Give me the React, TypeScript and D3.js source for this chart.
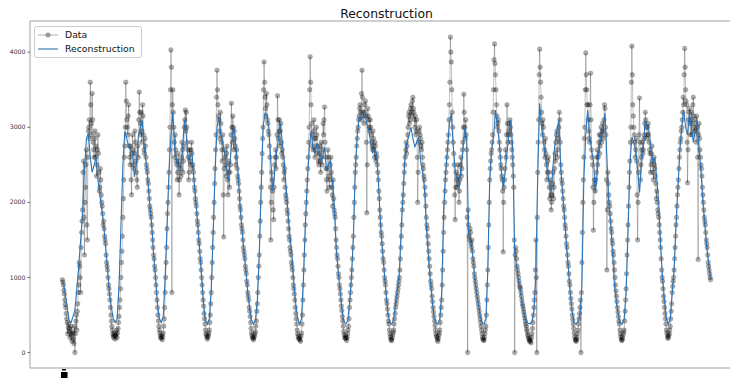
import React from "react";
import * as d3 from "d3";

// y axis ticks
const yTicks = [0, 1000, 2000, 3000, 4000];

// observed series, one row per day (first and last rows are partial days)
const observedByDay: number[][] = [
  [970, 900, 780, 640, 520, 400, 330],
  [280, 200, 350, 150, 260, 120, 0, 420, 300, 650, 900, 1150, 800, 1600, 1900, 2550, 1300, 2200, 2700, 1500, 2950, 3100, 3600, 3050, 3450, 2800, 2600, 2950, 2750, 2500, 2900, 2400, 2200, 2300, 2000, 1850, 1750, 1550, 1450, 1200, 1100, 900, 780, 600, 420, 300, 220, 260],
  [180, 250, 200, 320, 480, 700, 1000, 1350, 1800, 2300, 2750, 3600, 3100, 2900, 3300, 2600, 2750, 2100, 2900, 2500, 2650, 2800, 2400, 2200, 2600, 3470, 2900, 3200, 2950, 3150, 2700, 2850, 2600, 2450, 2300, 2150, 1950, 1850, 1700, 1500, 1300, 1150, 1000, 800, 600, 420, 300, 220],
  [200, 170, 260, 450, 800, 1200, 1650, 2000, 2400, 3000, 4030, 800, 3500, 3000, 2600, 2700, 2500, 2400, 2550, 2300, 2450, 2600, 2700, 2550, 3000, 3230, 3200, 2800, 2600, 2400, 2550, 2700, 2650, 2500, 2300, 2150, 2000, 1850, 1700, 1500, 1350, 1200, 1000, 800, 620, 450, 300, 230],
  [180, 230, 300, 500, 800, 1200, 1600, 2000, 2450, 2900, 3760, 3300, 3100, 2850, 3050, 2700, 2900, 1540, 2700, 2500, 2650, 2300, 2400, 2200, 2500, 3320, 2800, 3000, 2950, 2750, 2600, 2450, 2300, 2150, 1950, 1800, 1650, 1500, 1350, 1250, 1100, 950, 800, 700, 550, 400, 260, 200],
  [170, 220, 280, 420, 650, 1000, 1300, 1750, 2200, 2650, 3000, 3870, 3400, 3150, 3300, 3050, 2900, 2600, 1500, 2400, 2150, 1770, 2500, 2700, 2600, 3420, 2850, 3100, 2950, 2800, 2700, 2500, 2400, 2200, 2050, 1900, 1750, 1550, 1400, 1300, 1150, 1000, 850, 700, 520, 380, 250, 190],
  [200, 150, 260, 500, 900, 1300, 1700, 2000, 2300, 2600, 3000, 3940, 3300, 2900, 2700, 3100, 2600, 2850, 2900, 2650, 2500, 2750, 2400, 2600, 2700, 2900, 3270, 2600, 2300, 2450, 2600, 2200, 2500, 2400, 2100, 2300, 1900, 1800, 1500, 1300, 1150, 1000, 850, 700, 560, 420, 280, 200],
  [220, 160, 250, 350, 600, 800, 1000, 1250, 1550, 2000, 2400, 2600, 2850, 3000, 3150, 3300, 3100, 3760, 3200, 3050, 3300, 3150, 1860, 3250, 3100, 2950, 3000, 2800, 2700, 2850, 2600, 2750, 2650, 2500, 2300, 2050, 1800, 1600, 1450, 1250, 1100, 950, 800, 650, 500, 380, 250, 180],
  [170, 240, 300, 450, 600, 700, 800, 900, 1000, 1250, 1550, 1900, 2100, 2400, 2600, 2800, 2750, 3000, 3200, 3100, 3300, 3150, 3400, 3200, 3000, 2900, 3100, 2000, 2800, 3000, 2850, 2700, 2600, 2450, 2300, 2100, 1800, 1650, 1450, 1250, 1050, 900, 750, 600, 480, 360, 250, 200],
  [150, 230, 300, 500, 700, 1100, 1600, 2000, 2300, 2500, 2700, 2900, 3300, 4200, 3870, 3200, 2800, 2500, 1770, 2400, 2200, 2500, 2000, 2300, 2600, 2450, 2800, 3440, 3000, 3100, 2700, 0, 1700, 1500, 1600, 1400, 1350, 1200, 1050, 950, 850, 750, 650, 550, 450, 350, 250, 180],
  [160, 250, 350, 700, 1100, 1700, 2300, 2550, 2700, 2900, 3500, 4110, 3700, 3300, 3000, 3100, 2800, 2600, 2450, 2300, 1340, 2200, 2450, 2600, 3300, 2800, 2950, 3100, 2900, 2700, 2500, 2200, 0, 1400, 1250, 1100, 1000, 900, 850, 750, 650, 580, 500, 420, 350, 280, 220, 170],
  [180, 130, 250, 400, 600, 800, 1500, 0, 2400, 3100, 4040, 3600, 3200, 2900, 3000, 2700, 2850, 2500, 2400, 2600, 2200, 2300, 1900, 2100, 2400, 2200, 2650, 2800, 2950, 2700, 3000, 3100, 2500, 2300, 2150, 1950, 1800, 1650, 1450, 1300, 1150, 950, 800, 650, 500, 380, 260, 180],
  [150, 200, 300, 450, 600, 0, 1200, 2000, 2600, 3000, 3990, 3500, 3300, 2950, 2800, 3720, 2700, 2500, 1630, 2300, 2150, 2400, 2700, 2600, 2900, 2750, 3000, 2950, 2850, 3100, 3250, 2900, 1100, 2400, 2100, 1950, 1750, 1600, 1450, 1300, 1100, 900, 750, 600, 480, 380, 250, 180],
  [170, 240, 300, 550, 850, 1300, 1700, 2200, 2550, 3000, 4080, 3300, 3000, 2800, 2700, 2550, 1500, 2400, 3390, 2300, 2600, 2800, 2700, 2900, 3200, 3000, 2900, 3050, 2800, 2650, 2500, 2750, 2400, 2600, 2450, 2250, 2150, 1900, 1800, 1600, 1400, 1100, 950, 750, 600, 450, 300, 220],
  [200, 250, 350, 550, 800, 950, 1100, 1400, 1700, 1950, 2200, 2450, 2700, 2850, 3000, 3200, 3300, 4050, 3500, 3300, 2260, 3100, 3250, 2900, 3200, 3050, 3400, 2950, 3100, 2800, 3000, 1240, 3050, 2700, 2500, 2350, 2100, 1900, 1750, 1600, 1450, 1300, 1150, 1050, 970],
];

// observations taken half a step after each value above
const observedHalfByDay: number[][] = [
  [940, 830, 700, 600, 450, 250, 380],
  [320, 250, 220, 280, 180, 350, 250, 500, 550, 800, 1200, 1000, 1400, 1750, 2400, 1800, 2000, 2500, 1700, 2600, 3000, 2850, 3300, 2900, 3100, 2700, 2850, 2600, 2350, 2700, 2650, 2150, 2450, 2100, 1950, 1700, 1650, 1500, 1300, 1150, 1000, 850, 700, 500, 350, 250, 200, 230],
  [220, 300, 260, 400, 600, 850, 1200, 1550, 2050, 2600, 3000, 3350, 3000, 3150, 2750, 2500, 2300, 2650, 2700, 2450, 2950, 2550, 2300, 2750, 3100, 3200, 3050, 2800, 3300, 2900, 2650, 2750, 2500, 2400, 2250, 2050, 1900, 1800, 1600, 1400, 1250, 1100, 900, 700, 500, 350, 260, 190],
  [230, 210, 350, 600, 1000, 1400, 1850, 2200, 2700, 3500, 3800, 3300, 3200, 2800, 2900, 2550, 2300, 2650, 2100, 2500, 2350, 2800, 2400, 2750, 3100, 2950, 3000, 2700, 2300, 2700, 2500, 2800, 2450, 2400, 2200, 2050, 1950, 1750, 1600, 1450, 1250, 1100, 900, 700, 520, 380, 250, 200],
  [210, 260, 400, 650, 1000, 1400, 1800, 2250, 2700, 3400, 3500, 3150, 2950, 3200, 2800, 2550, 2100, 2450, 2600, 2350, 2750, 2100, 2550, 2400, 2900, 3000, 3150, 2700, 2850, 2500, 2700, 2350, 2250, 2050, 1900, 1700, 1600, 1400, 1300, 1150, 1050, 900, 750, 600, 480, 320, 230, 190],
  [200, 250, 350, 550, 800, 1150, 1550, 2000, 2400, 2850, 3500, 3600, 3250, 3450, 3100, 2950, 2750, 2200, 2000, 2300, 1900, 2200, 2600, 2450, 2900, 3100, 2950, 2750, 3050, 2650, 2600, 2300, 2450, 2100, 2000, 1850, 1650, 1500, 1350, 1200, 1100, 900, 780, 600, 450, 300, 220, 180],
  [170, 220, 380, 700, 1100, 1500, 1850, 2150, 2450, 2800, 3500, 3600, 3050, 2750, 2950, 2850, 2700, 3000, 2750, 2550, 2650, 2550, 2800, 2500, 3050, 3100, 2800, 2450, 2150, 2700, 2350, 2300, 2600, 2200, 1950, 2050, 1850, 1650, 1400, 1250, 1050, 900, 780, 620, 480, 350, 240, 190],
  [190, 200, 300, 450, 700, 900, 1100, 1400, 1800, 2200, 2500, 2750, 2950, 3100, 3250, 3200, 3450, 3400, 3150, 3200, 3350, 2800, 2500, 3150, 3000, 3100, 2900, 2750, 2950, 2700, 2800, 2550, 2600, 2400, 2150, 1900, 1700, 1550, 1350, 1200, 1000, 900, 700, 580, 420, 300, 210, 160],
  [200, 270, 380, 520, 650, 750, 850, 950, 1100, 1400, 1700, 2000, 2250, 2500, 2700, 2650, 2900, 3150, 3050, 3250, 3200, 3350, 3250, 3100, 3150, 2950, 2600, 2400, 2950, 2900, 2750, 2800, 2500, 2350, 2200, 1950, 1700, 1550, 1350, 1150, 950, 850, 680, 540, 420, 300, 220, 170],
  [190, 260, 400, 600, 900, 1350, 1800, 2150, 2400, 2600, 2800, 3100, 3600, 4000, 3500, 3000, 2650, 2100, 2200, 2300, 2350, 2250, 2150, 2500, 2350, 2700, 3000, 3200, 2850, 2900, 1800, 1900, 1550, 1650, 1450, 1500, 1250, 1150, 1000, 900, 800, 700, 600, 500, 400, 300, 200, 170],
  [200, 300, 500, 900, 1400, 2000, 2450, 2650, 2800, 3200, 3900, 3850, 3500, 3150, 3050, 2950, 2700, 2500, 2350, 2150, 2000, 2300, 2700, 2900, 3050, 2900, 3050, 3000, 2800, 2600, 2350, 1500, 1300, 1350, 1150, 1050, 950, 870, 800, 700, 620, 540, 460, 380, 310, 240, 190, 150],
  [150, 200, 320, 500, 700, 1100, 1000, 1800, 2800, 3700, 3800, 3400, 3050, 3100, 2800, 2600, 2650, 2300, 2550, 2400, 2050, 2100, 2000, 2250, 2050, 2450, 2550, 2900, 2600, 2850, 3200, 2800, 2400, 2250, 2050, 1900, 1700, 1550, 1400, 1200, 1050, 900, 720, 580, 440, 320, 210, 160],
  [170, 250, 380, 520, 700, 800, 1600, 2300, 2850, 3500, 3700, 3300, 3100, 2850, 3300, 3100, 2600, 2200, 2000, 2250, 2300, 2600, 2500, 2800, 2650, 2900, 2800, 3050, 2950, 3300, 3000, 2300, 1900, 2250, 2000, 1850, 1650, 1500, 1350, 1200, 1000, 820, 680, 540, 420, 300, 210, 160],
  [200, 270, 420, 700, 1050, 1500, 1950, 2400, 2800, 3600, 3700, 3150, 2900, 2600, 2850, 2100, 2000, 2900, 2800, 2500, 2700, 2650, 2850, 3050, 3100, 2850, 3000, 2900, 2700, 2400, 2650, 2550, 2300, 2500, 2350, 2050, 2000, 1850, 1700, 1500, 1250, 1000, 850, 680, 520, 380, 260, 190],
  [230, 300, 450, 650, 880, 1000, 1250, 1550, 1800, 2100, 2300, 2600, 2800, 2950, 3100, 3400, 3700, 3800, 3350, 2800, 2700, 3200, 3050, 3100, 2900, 3300, 3150, 3000, 2950, 3150, 2600, 2900, 2850, 2600, 2450, 2200, 2000, 1800, 1700, 1500, 1400, 1200, 1100, 1000],
];

// reconstruction, sampled every second observation (offset by one step)
const reconByDay: number[][] = [
  [950, 780, 600],
  [430, 400, 480, 560, 850, 1150, 1500, 1860, 2450, 2850, 2920, 2600, 2400, 2500, 2600, 2300, 2100, 1900, 1700, 1400, 1120, 800, 600, 450],
  [400, 450, 900, 1700, 2500, 2950, 2850, 2740, 2700, 2660, 2340, 2500, 2870, 3000, 3100, 2750, 2550, 2300, 1950, 1700, 1300, 1000, 650, 450],
  [400, 480, 1000, 1700, 2400, 2900, 3200, 2700, 2550, 2450, 2500, 2660, 3100, 2900, 2560, 2600, 2650, 2300, 2000, 1700, 1350, 1000, 650, 430],
  [380, 450, 850, 1600, 2400, 3000, 3140, 2900, 2800, 2660, 2450, 2300, 2600, 2900, 3000, 2700, 2400, 1950, 1650, 1350, 1100, 800, 600, 430],
  [380, 430, 700, 1300, 2200, 3000, 3190, 3150, 3000, 2560, 2150, 2400, 2660, 2850, 3060, 2800, 2550, 2200, 1860, 1550, 1300, 950, 650, 450],
  [380, 450, 1000, 1700, 2250, 2700, 2960, 2700, 2650, 2790, 2700, 2560, 2600, 2740, 2450, 2500, 2560, 2300, 2000, 1400, 1100, 850, 600, 420],
  [380, 420, 650, 1000, 1540, 2430, 2900, 3140, 3100, 3150, 3190, 3050, 2960, 2800, 2660, 2700, 2660, 2300, 1770, 1400, 1100, 800, 530, 400],
  [380, 450, 670, 850, 1100, 1700, 2200, 2660, 2800, 2900, 3000, 2850, 2740, 2800, 2870, 2560, 2400, 2200, 1680, 1300, 970, 700, 480, 400],
  [380, 450, 800, 1900, 2400, 2700, 3050, 3190, 2740, 2430, 2300, 2200, 2450, 2660, 3000, 2850, 1600, 1450, 1330, 1050, 800, 670, 500, 400],
  [380, 450, 1100, 2300, 2700, 2870, 3230, 3000, 2800, 2430, 2200, 2400, 2660, 2900, 3100, 2700, 1330, 1150, 950, 800, 650, 520, 430, 390],
  [380, 420, 550, 1000, 2400, 3320, 3000, 2800, 2600, 2430, 2250, 2130, 2500, 2800, 2960, 3100, 2430, 2100, 1770, 1400, 1100, 750, 530, 400],
  [380, 420, 500, 900, 2300, 2900, 3230, 2900, 2700, 2560, 2130, 2400, 2740, 2920, 3000, 3190, 2600, 2000, 1700, 1300, 880, 650, 500, 400],
  [380, 450, 800, 1600, 2500, 2870, 2800, 2700, 2450, 2130, 2500, 2740, 3100, 3000, 2950, 2700, 2520, 2600, 2300, 2000, 1410, 1000, 700, 450],
  [380, 450, 800, 1100, 1700, 2200, 2700, 3000, 3230, 3000, 2900, 3190, 3000, 2800, 2950, 3100, 2700, 2400, 2000, 1700, 1400, 1200, 1000],
];

const width = 730;
const height = 379;
const margin = { top: 21, left: 30, bottom: 11 };
const axRight = 743; // right spine falls outside the picture

export default function App() {
  const observed = observedByDay.flat();
  const halfSteps = observedHalfByDay.flat();
  const recon = reconByDay.flat();
  const n = observed.length - 1;

  // interleave whole steps and half steps: [t, value]
  const series: [number, number][] = [];
  observed.forEach((v, i) => {
    series.push([i, v]);
    if (i < halfSteps.length) series.push([i + 0.5, halfSteps[i]]);
  });

  const x = d3
    .scaleLinear()
    .domain([-n * 0.05, n * 1.05])
    .range([margin.left, axRight]);
  const y = d3
    .scaleLinear()
    .domain([-205, 4415])
    .range([height - margin.bottom, margin.top]);

  const dataLine = d3
    .line<[number, number]>()
    .x((d) => x(d[0]))
    .y((d) => y(d[1]));
  const reconLine = d3
    .line<number>()
    .x((_, i) => x(2 * i + 1))
    .y((d) => y(d));

  const bottom = height - margin.bottom;

  return (
    <svg
      width={width}
      height={height}
      style={{ position: "absolute", left: 0, top: 0, background: "#fff" }}
      fontFamily="DejaVu Sans, sans-serif"
    >
      <rect width={width} height={height} fill="#fff" />
      <text x={(margin.left + axRight) / 2} y={18} textAnchor="middle" fontSize={12.4} fill="#111">
        Reconstruction
      </text>

      <defs>
        <clipPath id="plotArea">
          <rect x={margin.left} y={margin.top} width={axRight - margin.left} height={bottom - margin.top} />
        </clipPath>
      </defs>

      <g clipPath="url(#plotArea)">
        <path d={dataLine(series) ?? ""} fill="none" stroke="#000" strokeOpacity={0.28} strokeWidth={0.9} />
        {series.map((d, i) => (
          <circle
            key={i}
            cx={x(d[0])}
            cy={y(d[1])}
            r={2.3}
            fill="#000"
            fillOpacity={0.3}
            stroke="#000"
            strokeOpacity={0.3}
            strokeWidth={0.6}
          />
        ))}
        <path d={reconLine(recon) ?? ""} fill="none" stroke="#2a74b8" strokeWidth={1.1} />
      </g>

      {/* spines */}
      <line x1={margin.left} x2={margin.left} y1={margin.top} y2={bottom} stroke="#a0a0a0" />
      <line x1={margin.left} x2={width} y1={margin.top} y2={margin.top} stroke="#a0a0a0" />
      <line x1={margin.left} x2={width} y1={bottom} y2={bottom} stroke="#a0a0a0" />

      {yTicks.map((t) => (
        <g key={t} transform={`translate(${margin.left},${y(t)})`}>
          <line x1={-2.5} x2={0} stroke="#666" />
          <text x={-4.5} dy="0.34em" textAnchor="end" fontSize={6.2} fill="#333">
            {t}
          </text>
        </g>
      ))}

      {/* clipped x tick label fragment */}
      <rect x={62} y={369} width={4} height={1.5} fill="#000" />
      <rect x={61} y={372} width={6.5} height={6} fill="#000" />

      {/* legend */}
      <g>
        <rect x={34.5} y={26.5} width={107} height={31} rx={2} fill="#fff" fillOpacity={0.8} stroke="#cccccc" />
        <line x1={38} x2={58} y1={35} y2={35} stroke="#000" strokeOpacity={0.3} strokeWidth={1} />
        <circle cx={48} cy={35} r={2.3} fill="#000" fillOpacity={0.3} stroke="#000" strokeOpacity={0.3} strokeWidth={0.6} />
        <text x={65} y={35} dy="0.35em" fontSize={9.3} fill="#111">
          Data
        </text>
        <line x1={38} x2={58} y1={49} y2={49} stroke="#2a74b8" strokeWidth={1.1} />
        <text x={65} y={49} dy="0.35em" fontSize={9.3} fill="#111">
          Reconstruction
        </text>
      </g>
    </svg>
  );
}
